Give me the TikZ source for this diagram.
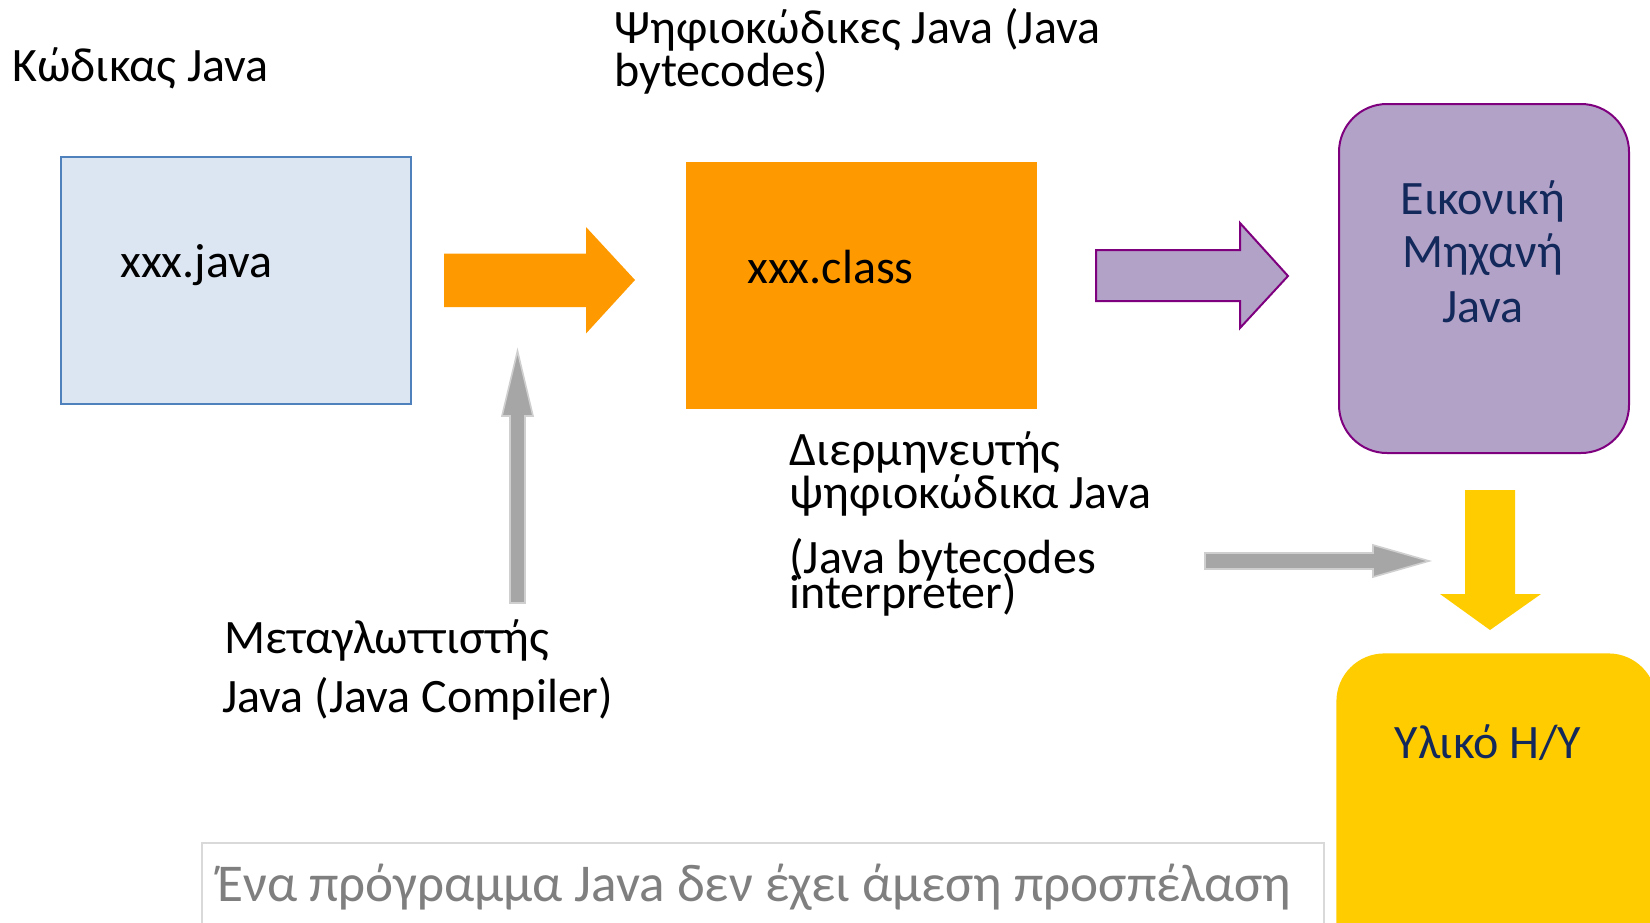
\documentclass[tikz,border=0pt]{standalone}
\usepackage{fontspec}
\setmainfont{Carlito}
\definecolor{javafill}{HTML}{DCE6F2}
\definecolor{javaborder}{HTML}{4F81BD}
\definecolor{orangefill}{HTML}{FF9900}
\definecolor{purplefill}{HTML}{B3A2C7}
\definecolor{purpleborder}{HTML}{7F007F}
\definecolor{navytext}{HTML}{13295B}
\definecolor{yellowfill}{HTML}{FFCC00}
\definecolor{grayarrow}{HTML}{A6A6A6}
\definecolor{grayedge}{HTML}{CFCFCF}
\definecolor{graytext}{HTML}{7F7F7F}
\definecolor{grayborder}{HTML}{D9D9D9}
\begin{document}
\begin{tikzpicture}[x=0.5pt,y=-0.5pt,
  lbl/.style={anchor=base west,inner sep=0pt,font=\fontsize{24}{28}\selectfont},
  clbl/.style={lbl,anchor=base,text=navytext},
  boxnode/.style={inner sep=0pt,anchor=north west},
  grayarr/.style={fill=grayarrow,draw=grayedge,line width=0.8pt,line join=miter}]
\useasboundingbox (0,0) rectangle (1650,922);
\begin{scope}
\clip (0,0) rectangle (1650,922);
\fill[white] (0,0) rectangle (1650,922);
% boxes
\node[boxnode,draw=javaborder,fill=javafill,line width=1pt,minimum width=175pt,minimum height=123.5pt] (javabox) at (60,156) {};
\node[boxnode,fill=orangefill,minimum width=175.5pt,minimum height=123.5pt] (classbox) at (686,162) {};
\node[boxnode,draw=purpleborder,fill=purplefill,line width=1pt,rounded corners=24pt,minimum width=145pt,minimum height=174.5pt] (jvmbox) at (1338,103) {};
\node[boxnode,fill=yellowfill,rounded corners=24pt,minimum width=160pt,minimum height=170pt] (hwbox) at (1336,653) {};
\node[boxnode,draw=grayborder,line width=1pt,minimum width=561pt,minimum height=60pt] (notebox) at (201,842) {};
% arrows
\fill[orangefill] (444,253.5) -- (586,253.5) -- (586,227) -- (635,280) -- (586,333.5) -- (586,307) -- (444,307) -- cycle;
\draw[fill=purplefill,draw=purpleborder,line width=1pt] (1096,250) -- (1240,250) -- (1240,223) -- (1288,276) -- (1240,328) -- (1240,301) -- (1096,301) -- cycle;
\draw[grayarr] (510,603) -- (510,416) -- (502,416) -- (517.5,351) -- (533,416) -- (525,416) -- (525,603) -- cycle;
\draw[grayarr] (1205,553) -- (1373,553) -- (1373,545) -- (1429,561) -- (1373,577) -- (1373,569) -- (1205,569) -- cycle;
\fill[yellowfill] (1465,490) -- (1515,490) -- (1515,594) -- (1541,594) -- (1490,630) -- (1440,594) -- (1465,594) -- cycle;
% texts
\node[lbl] (srclbl) at (12,81) {Κώδικας Java};
\node[lbl] (bclbla) at (614,43) {Ψηφιοκώδικες Java (Java};
\node[lbl] (bclblb) at (614,86) {bytecodes)};
\node[lbl] (javatxt) at (120,277) {xxx.java};
\node[lbl] (classtxt) at (747,283) {xxx.class};
\node[clbl] (jvma) at (1483,214) {Εικονική};
\node[clbl] (jvmb) at (1483,267) {Μηχανή};
\node[clbl] (jvmc) at (1483,322) {Java};
\node[lbl] (intera) at (789,465) {Διερμηνευτής};
\node[lbl] (interb) at (789,508) {ψηφιοκώδικα Java};
\node[lbl] (interc) at (789,573) {(Java bytecodes};
\node[lbl] (interd) at (789,608) {interpreter)};
\node[lbl] (compa) at (224,653) {Μεταγλωττιστής};
\node[lbl] (compb) at (222,712) {Java (Java Compiler)};
\node[clbl] (hwtxt) at (1488,758) {Υλικό Η/Υ};
\node[lbl,font=\fontsize{26.6}{30}\selectfont,text=graytext] (notetxt) at (217,901) {Ένα πρόγραμμα Java δεν έχει άμεση προσπέλαση};
\end{scope}
\end{tikzpicture}
\end{document}
